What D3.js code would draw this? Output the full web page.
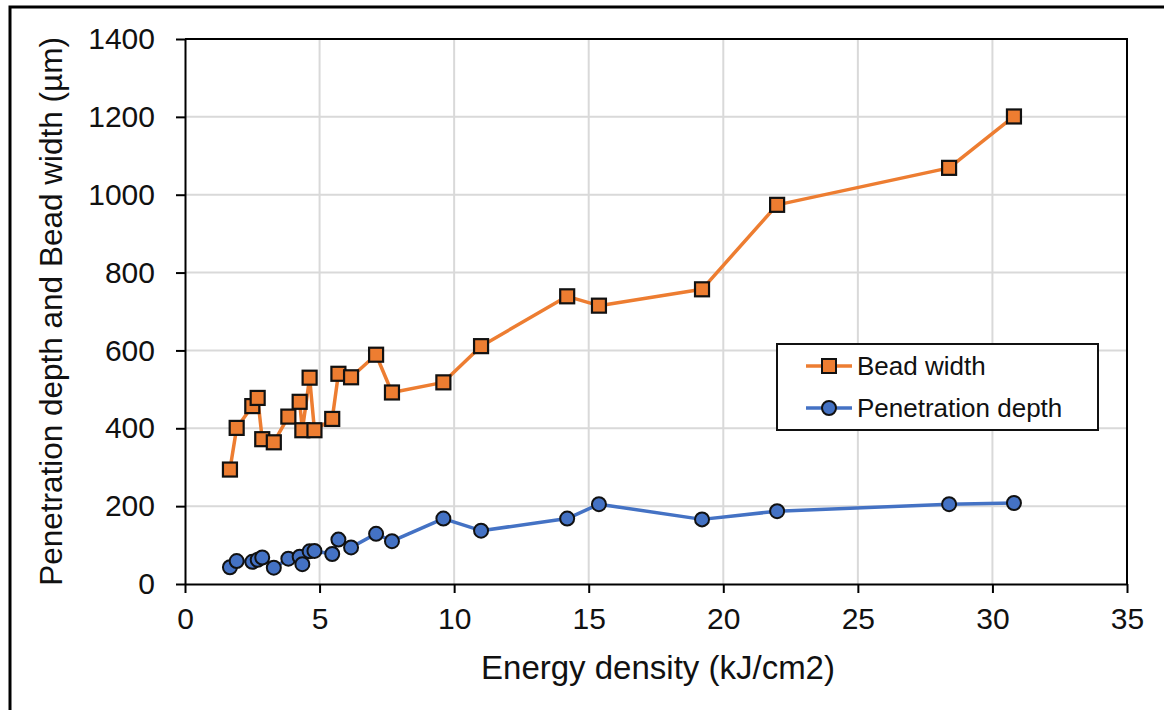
<!DOCTYPE html>
<html>
<head>
<meta charset="utf-8">
<script src="https://cdn.jsdelivr.net/npm/d3@7"></script>
<style>
  html, body { margin: 0; padding: 0; background: #fff; }
  svg { display: block; font-family: Arial, "Liberation Sans", sans-serif; }
</style>
</head>
<body>
<svg id="chart" width="1164" height="710"></svg>
<script>
// ---- data ----
const energy = [1.67, 1.92, 2.50, 2.70, 2.87, 3.30, 3.84, 4.26, 4.36, 4.63, 4.81, 5.47, 5.70, 6.17, 7.10, 7.69, 9.60, 11.0, 14.2, 15.38, 19.21, 22.0, 28.39, 30.8];
const beadWidth = [294, 401, 457, 478, 372, 364, 430, 468, 395, 530, 395, 424, 540, 531, 589, 492, 518, 611, 739, 715, 757, 974, 1069, 1201];
const penetrationDepth = [43, 59, 57, 62, 68, 42, 65, 70, 51, 84, 85, 77, 114, 94, 129, 110, 168, 137, 168, 205, 166, 187, 205, 208];
const seriesNames = ["Bead width", "Penetration depth"];
const xTicks = [0, 5, 10, 15, 20, 25, 30, 35];
const yTicks = [0, 200, 400, 600, 800, 1000, 1200, 1400];
const xTitle = "Energy density (kJ/cm2)";
const yTitle = "Penetration depth and Bead width (µm)";

// ---- layout ----
const svg = d3.select("#chart");
const L = 185, R = 1127, T = 39, B = 584;
const x = d3.scaleLinear().domain([0, 35]).range([L, R]);
const y = d3.scaleLinear().domain([0, 1400]).range([B, T]);
const ORANGE = "#ED7D31", BLUE = "#4472C4";

// outer frame
svg.append("rect").attr("x", 10).attr("y", 7).attr("width", 1200).attr("height", 800)
  .attr("fill", "none").attr("stroke", "#000").attr("stroke-width", 3);

// gridlines
const grid = svg.append("g");
grid.selectAll("line.v").data(xTicks.filter(d => d > 0 && d < 35)).join("line")
  .attr("x1", d => x(d)).attr("x2", d => x(d)).attr("y1", T).attr("y2", B)
  .attr("stroke", "#d9d9d9").attr("stroke-width", 2);
grid.selectAll("line.h").data(yTicks.filter(d => d > 0 && d < 1400)).join("line")
  .attr("x1", L).attr("x2", R).attr("y1", d => y(d)).attr("y2", d => y(d))
  .attr("stroke", "#d9d9d9").attr("stroke-width", 2);

// plot border (top and right)
svg.append("path").attr("d", `M${L},${T}H${R}V${B}`).attr("fill", "none")
  .attr("stroke", "#000").attr("stroke-width", 2);

// axes
const xAxis = svg.append("g").attr("transform", `translate(0,${B})`)
  .call(d3.axisBottom(x).tickValues(xTicks).tickFormat(d3.format("d"))
    .tickSize(9).tickSizeOuter(0).tickPadding(15));
const yAxis = svg.append("g").attr("transform", `translate(${L},0)`)
  .call(d3.axisLeft(y).tickValues(yTicks).tickFormat(d3.format("d"))
    .tickSize(9).tickSizeOuter(0).tickPadding(21));
[xAxis, yAxis].forEach(g => {
  g.select(".domain").attr("stroke", "#000").attr("stroke-width", 2);
  g.selectAll(".tick line").attr("stroke", "#000").attr("stroke-width", 2);
  g.selectAll(".tick text").attr("fill", "#111").style("font-size", "30px")
    .style("font-family", "Arial, 'Liberation Sans', sans-serif");
});

// titles
svg.append("text").attr("x", (L + R) / 2 + 2).attr("y", 679).attr("text-anchor", "middle")
  .style("font-size", "33px").attr("fill", "#111").text(xTitle);
svg.append("text").attr("transform", `translate(62,${(T + B) / 2}) rotate(-90)`)
  .attr("text-anchor", "middle").style("font-size", "31.5px").attr("fill", "#111").text(yTitle);

// series
const beadData = energy.map((e, i) => [e, beadWidth[i]]);
const penData = energy.map((e, i) => [e, penetrationDepth[i]]);
const line = d3.line().x(d => x(d[0])).y(d => y(d[1]));

svg.append("path").datum(beadData).attr("d", line).attr("fill", "none")
  .attr("stroke", ORANGE).attr("stroke-width", 3.5).attr("stroke-linejoin", "round");
svg.append("path").datum(penData).attr("d", line).attr("fill", "none")
  .attr("stroke", BLUE).attr("stroke-width", 3.5).attr("stroke-linejoin", "round");

const S = 14;
svg.append("g").selectAll("rect").data(beadData).join("rect")
  .attr("x", d => x(d[0]) - S / 2).attr("y", d => y(d[1]) - S / 2)
  .attr("width", S).attr("height", S)
  .attr("fill", ORANGE).attr("stroke", "#111").attr("stroke-width", 2.2);
svg.append("g").selectAll("circle").data(penData).join("circle")
  .attr("cx", d => x(d[0])).attr("cy", d => y(d[1])).attr("r", 7)
  .attr("fill", BLUE).attr("stroke", "#111").attr("stroke-width", 2);

// legend
const lg = svg.append("g");
lg.append("rect").attr("x", 777).attr("y", 344).attr("width", 321).attr("height", 86)
  .attr("fill", "#fff").attr("stroke", "#111").attr("stroke-width", 2);
const rows = [{ name: seriesNames[0], color: ORANGE, shape: "square", cy: 366 },
              { name: seriesNames[1], color: BLUE, shape: "circle", cy: 408 }];
rows.forEach(r => {
  lg.append("line").attr("x1", 806).attr("x2", 852).attr("y1", r.cy).attr("y2", r.cy)
    .attr("stroke", r.color).attr("stroke-width", 3.5);
  if (r.shape === "square") {
    lg.append("rect").attr("x", 829 - 7).attr("y", r.cy - 7).attr("width", 14).attr("height", 14)
      .attr("fill", r.color).attr("stroke", "#111").attr("stroke-width", 2);
  } else {
    lg.append("circle").attr("cx", 829).attr("cy", r.cy).attr("r", 7)
      .attr("fill", r.color).attr("stroke", "#111").attr("stroke-width", 2);
  }
  lg.append("text").attr("x", 857).attr("y", r.cy).attr("dy", "0.36em")
    .style("font-size", "26px").attr("fill", "#111").text(r.name);
});
</script>
</body>
</html>
